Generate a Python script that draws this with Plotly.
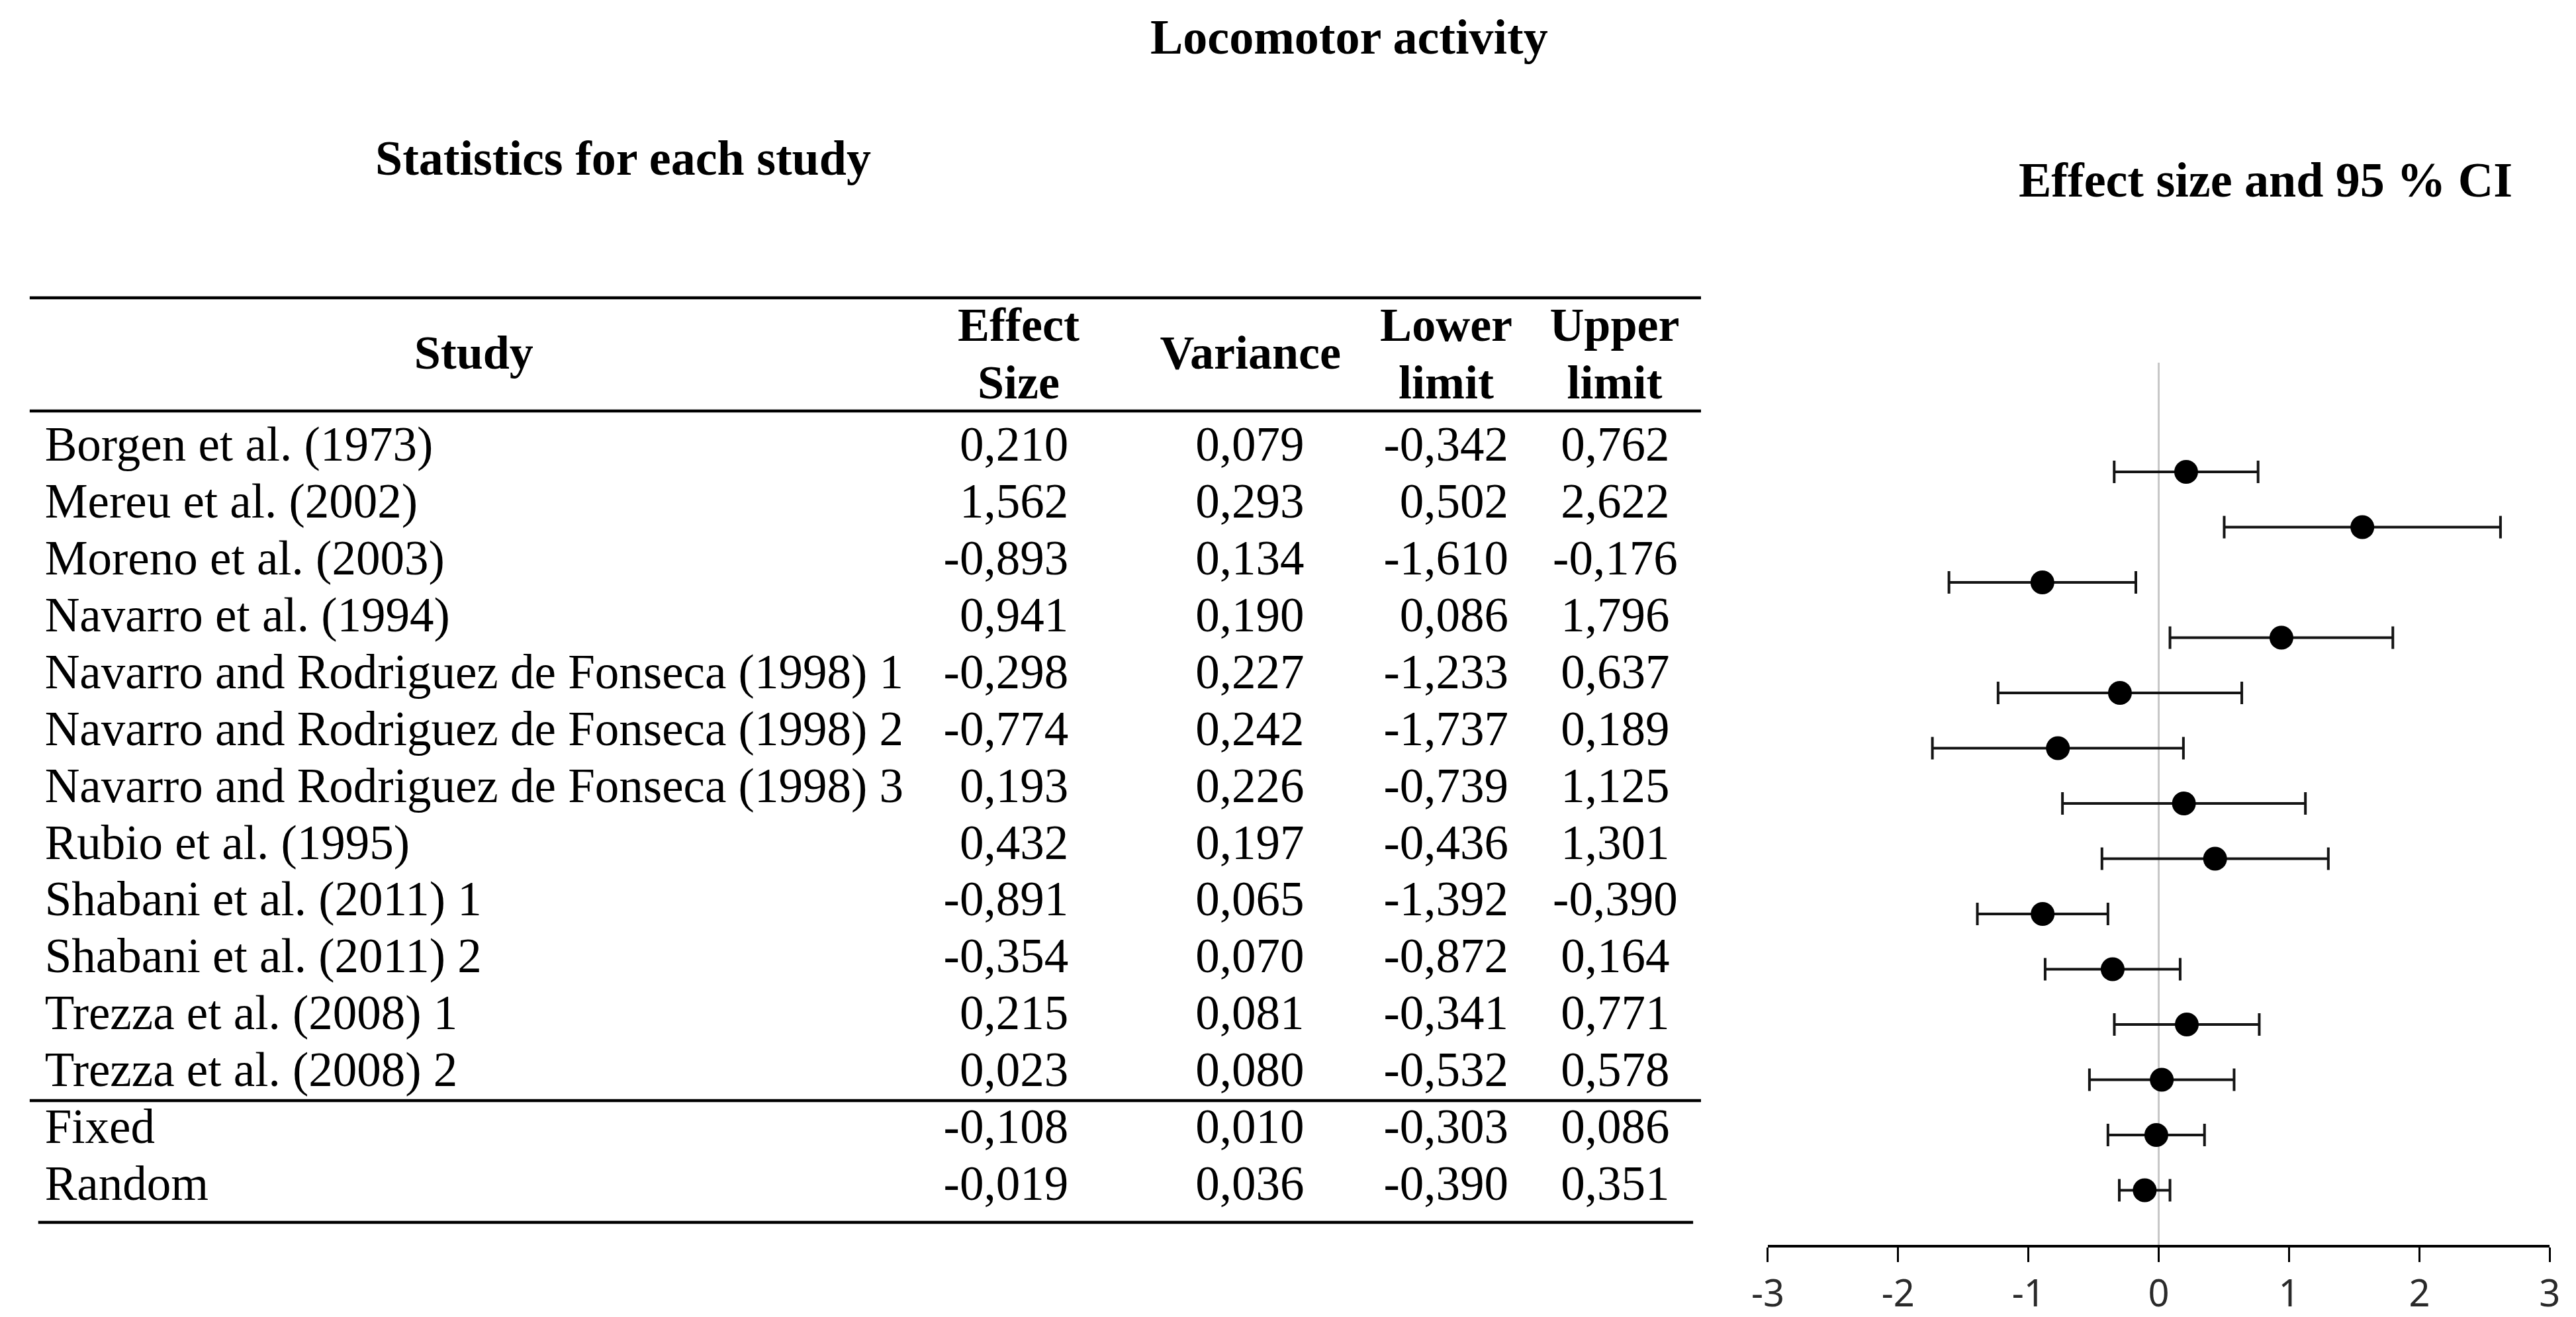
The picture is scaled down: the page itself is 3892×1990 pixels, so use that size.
import plotly.graph_objects as go

# ---------------- data ----------------
studies = [
    "Borgen et al. (1973)",
    "Mereu et al. (2002)",
    "Moreno et al. (2003)",
    "Navarro et al. (1994)",
    "Navarro and Rodriguez de Fonseca (1998) 1",
    "Navarro and Rodriguez de Fonseca (1998) 2",
    "Navarro and Rodriguez de Fonseca (1998) 3",
    "Rubio et al. (1995)",
    "Shabani et al. (2011) 1",
    "Shabani et al. (2011) 2",
    "Trezza et al. (2008) 1",
    "Trezza et al. (2008) 2",
    "Fixed",
    "Random",
]
effect_size = [0.210, 1.562, -0.893, 0.941, -0.298, -0.774, 0.193, 0.432, -0.891, -0.354, 0.215, 0.023, -0.108, -0.019]
variance = [0.079, 0.293, 0.134, 0.190, 0.227, 0.242, 0.226, 0.197, 0.065, 0.070, 0.081, 0.080, 0.010, 0.036]
lower_limit = [-0.342, 0.502, -1.610, 0.086, -1.233, -1.737, -0.739, -0.436, -1.392, -0.872, -0.341, -0.532, -0.303, -0.390]
upper_limit = [0.762, 2.622, -0.176, 1.796, 0.637, 0.189, 1.125, 1.301, -0.390, 0.164, 0.771, 0.578, 0.086, 0.351]
# in the original figure the two summary rows appear in swapped order in the forest plot
forest_rows = [0, 1, 2, 3, 4, 5, 6, 7, 8, 9, 10, 11, 13, 12]
x_ticks = [-3, -2, -1, 0, 1, 2, 3]

W, H = 3892, 1990
SERIF = "Liberation Serif, Times New Roman, serif"


def fmt(v):
    return f"{v:.3f}".replace(".", ",")


fig = go.Figure()

# ---------------- forest plot ----------------
fx = [effect_size[i] for i in forest_rows]
fplus = [upper_limit[i] - effect_size[i] for i in forest_rows]
fminus = [effect_size[i] - lower_limit[i] for i in forest_rows]
fig.add_trace(go.Scatter(
    x=fx, y=list(range(len(forest_rows))), mode="markers",
    marker=dict(size=36, color="black"),
    error_x=dict(type="data", symmetric=False, array=fplus, arrayminus=fminus,
                 color="#141414", thickness=4, width=17),
    xaxis="x", yaxis="y", hoverinfo="skip", showlegend=False,
))

# ---------------- table (text on an invisible axis in row units) ----------------
rows = list(range(len(studies)))
body_font = dict(family=SERIF, size=73, color="black")
head_font = dict(family=SERIF, size=72, color="black")

fig.add_trace(go.Scatter(x=[35] * len(rows), y=rows, text=studies, mode="text",
                         textposition="middle right", textfont=body_font,
                         xaxis="x2", yaxis="y2", hoverinfo="skip", showlegend=False))
fig.add_trace(go.Scatter(x=[1598] * len(rows), y=rows, text=[fmt(v) for v in effect_size], mode="text",
                         textposition="middle left", textfont=body_font,
                         xaxis="x2", yaxis="y2", hoverinfo="skip", showlegend=False))
fig.add_trace(go.Scatter(x=[1875] * len(rows), y=rows, text=[fmt(v) for v in variance], mode="text",
                         textposition="middle center", textfont=body_font,
                         xaxis="x2", yaxis="y2", hoverinfo="skip", showlegend=False))
fig.add_trace(go.Scatter(x=[2270] * len(rows), y=rows, text=[fmt(v) for v in lower_limit], mode="text",
                         textposition="middle left", textfont=body_font,
                         xaxis="x2", yaxis="y2", hoverinfo="skip", showlegend=False))
fig.add_trace(go.Scatter(x=[2433] * len(rows), y=rows, text=[fmt(v) for v in upper_limit], mode="text",
                         textposition="middle center", textfont=body_font,
                         xaxis="x2", yaxis="y2", hoverinfo="skip", showlegend=False))

# header
headers = [("<b>Study</b>", 690, -1.618), ("<b>Effect</b>", 1522, -2.107), ("<b>Size</b>", 1522, -1.094),
           ("<b>Variance</b>", 1876, -1.618), ("<b>Lower</b>", 2175, -2.107), ("<b>limit</b>", 2175, -1.094),
           ("<b>Upper</b>", 2432, -2.107), ("<b>limit</b>", 2432, -1.094)]
fig.add_trace(go.Scatter(x=[h[1] for h in headers], y=[h[2] for h in headers], text=[h[0] for h in headers],
                         mode="text", textposition="middle center", textfont=head_font,
                         xaxis="x2", yaxis="y2", hoverinfo="skip", showlegend=False))

# rules
for x0, x1, yr in [(12, 2564, -2.654), (12, 2564, -0.664), (12, 2564, 11.467), (25, 2552, 13.609)]:
    fig.add_shape(type="line", xref="x2", yref="y2", x0=x0, x1=x1, y0=yr, y1=yr,
                  line=dict(color="black", width=4.5))

# titles
title_font = dict(family=SERIF, size=74, color="black")
for txt, xp, yp in [("<b>Locomotor activity</b>", 2027, 48),
                    ("<b>Statistics for each study</b>", 918, 231),
                    ("<b>Effect size and 95 % CI</b>", 3426, 264)]:
    fig.add_annotation(text=txt, x=xp / W, y=1 - yp / H, xref="paper", yref="paper",
                       xanchor="center", yanchor="middle", showarrow=False, font=title_font)

# row mapping for table axis: row r at 670 + 85.9*r px from top
t0, tstep = 670.0, 85.9
# forest: row r at 705 + 83.5*r px
f0, fstep = 705.0, 83.5
ftop, fbot = 540.0, 1873.0

fig.update_layout(
    width=W, height=H, margin=dict(l=0, r=0, t=0, b=0),
    paper_bgcolor="white", plot_bgcolor="rgba(0,0,0,0)",
    xaxis=dict(domain=[2666 / W, 3860 / W], range=[-3, 3], tickvals=x_ticks,
               ticktext=[str(v) for v in x_ticks],
               showgrid=False, zeroline=True, zerolinecolor="#c8c8c8", zerolinewidth=3,
               showline=True, linecolor="black", linewidth=4,
               ticks="outside", ticklen=22, tickwidth=3, tickcolor="black",
               ticklabelstandoff=0,
               tickfont=dict(family="Noto Sans, Open Sans, sans-serif", size=56, color="#2a2a2a"),
               anchor="y", fixedrange=True),
    yaxis=dict(domain=[1 - fbot / H, 1 - ftop / H],
               range=[(fbot - f0) / fstep, (ftop - f0) / fstep],
               visible=False, showgrid=False, zeroline=False, anchor="x", fixedrange=True),
    xaxis2=dict(domain=[0, 1], range=[0, W], visible=False, anchor="y2", fixedrange=True),
    yaxis2=dict(domain=[0, 1], range=[(H - t0) / tstep, (0 - t0) / tstep], visible=False,
                anchor="x2", fixedrange=True),
)

fig.write_html("out.html")
